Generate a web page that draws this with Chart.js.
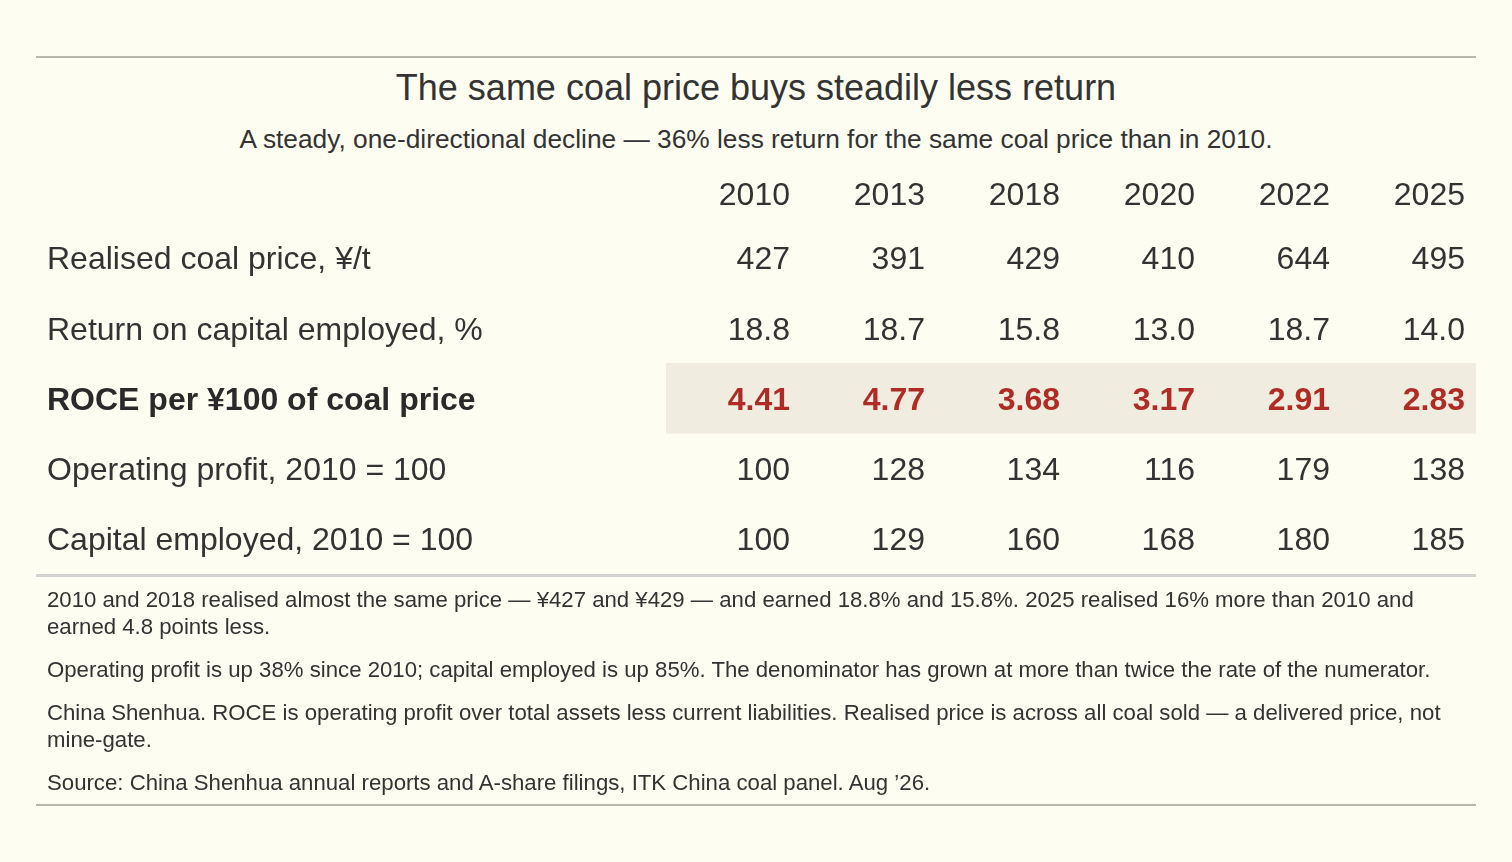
<!DOCTYPE html>
<html lang="en">
<head>
    <meta charset="UTF-8">
    <title>The same coal price buys steadily less return</title>
    <script src="https://cdn.jsdelivr.net/npm/chart.js"></script>
    <style>
        html, body {
            margin: 0;
            padding: 0;
            background: #fefdf1;
            font-family: "Liberation Sans", Arial, sans-serif;
            color: #333333;
        }
        .page {
            position: relative;
            width: 1512px;
            height: 862px;
            overflow: hidden;
        }
        .rule {
            position: absolute;
            left: 36px;
            width: 1440px;
        }
        .title {
            position: absolute;
            left: 0;
            width: 1512px;
            top: 66px;
            text-align: center;
            font-size: 36px;
            line-height: 43px;
        }
        .subtitle {
            position: absolute;
            left: 0;
            width: 1512px;
            top: 124px;
            text-align: center;
            font-size: 26.3px;
            line-height: 31px;
        }
        .chart-box {
            position: absolute;
            left: 36px;
            top: 160px;
            width: 1440px;
            height: 433px;
        }
        .notes {
            position: absolute;
            left: 47px;
            top: 586px;
            width: 1419px;
            font-size: 22.2px;
            line-height: 27px;
        }
        .notes p {
            margin: 0 0 16px 0;
        }
    </style>
</head>
<body>
<div class="page">
    <div class="rule" style="top:56px;height:2px;background:#b8b7ae;"></div>
    <div class="title" id="title"></div>
    <div class="subtitle" id="subtitle"></div>
    <div class="chart-box"><canvas id="table"></canvas></div>
    <div class="rule" style="top:574px;height:3px;background:#d2d2d0;"></div>
    <div class="notes" id="notes"></div>
    <div class="rule" style="top:804px;height:2px;background:#b8b7ae;"></div>
</div>
<script>
    const titleText = 'The same coal price buys steadily less return';
    const subtitleText = 'A steady, one-directional decline — 36% less return for the same coal price than in 2010.';

    const years = ['2010', '2013', '2018', '2020', '2022', '2025'];
    const rowLabels = [
        'Realised coal price, ¥/t',
        'Return on capital employed, %',
        'ROCE per ¥100 of coal price',
        'Operating profit, 2010 = 100',
        'Capital employed, 2010 = 100'
    ];
    const coalPrice = [427, 391, 429, 410, 644, 495];
    const roce = [18.8, 18.7, 15.8, 13.0, 18.7, 14.0];
    const rocePer100 = [4.41, 4.77, 3.68, 3.17, 2.91, 2.83];
    const operatingProfit = [100, 128, 134, 116, 179, 138];
    const capitalEmployed = [100, 129, 160, 168, 180, 185];
    const decimals = [0, 1, 2, 0, 0];
    const highlightRow = 2;

    const notes = [
        '2010 and 2018 realised almost the same price — ¥427 and ¥429 — and earned 18.8% and 15.8%. 2025 realised 16% more than 2010 and earned 4.8 points less.',
        'Operating profit is up 38% since 2010; capital employed is up 85%. The denominator has grown at more than twice the rate of the numerator.',
        'China Shenhua. ROCE is operating profit over total assets less current liabilities. Realised price is across all coal sold — a delivered price, not mine-gate.',
        'Source: China Shenhua annual reports and A-share filings, ITK China coal panel. Aug \u201926.'
    ];

    document.getElementById('title').textContent = titleText;
    document.getElementById('subtitle').textContent = subtitleText;
    const notesEl = document.getElementById('notes');
    notes.forEach(n => {
        const p = document.createElement('p');
        p.textContent = n;
        notesEl.appendChild(p);
    });

    const FONT = '"Liberation Sans", Arial, sans-serif';
    const TEXT = '#333333';
    const RED = '#b02b25';
    const X_MIN = -0.9185;
    const X_MAX = 5.0815;
    const TEXT_DROP = 2.5; // glyphs sit a touch below the row centre

    const rows = [coalPrice, roce, rocePer100, operatingProfit, capitalEmployed];

    // one scatter dataset per row, each point is a cell
    const cellSets = rows.map((values, r) => ({
        type: 'scatter',
        label: rowLabels[r],
        data: values.map((v, i) => ({ x: i, y: rowLabels[r], v: v })),
        pointRadius: 0,
        pointHoverRadius: 0,
        rowIndex: r
    }));

    const cellText = {
        id: 'cellText',
        afterDatasetsDraw(chart) {
            const ctx = chart.ctx;
            ctx.save();
            ctx.textAlign = 'right';
            ctx.textBaseline = 'middle';
            chart.data.datasets.forEach((ds, di) => {
                if (ds.type !== 'scatter') return;
                const r = ds.rowIndex;
                const bold = r === highlightRow;
                ctx.font = (bold ? 'bold ' : '') + '32px ' + FONT;
                ctx.fillStyle = bold ? RED : TEXT;
                chart.getDatasetMeta(di).data.forEach((pt, i) => {
                    ctx.fillText(ds.data[i].v.toFixed(decimals[r]), pt.x, pt.y + TEXT_DROP);
                });
            });
            ctx.restore();
        }
    };

    new Chart(document.getElementById('table'), {
        type: 'bar',
        data: {
            labels: rowLabels,
            datasets: [
                {
                    label: 'highlight',
                    indexAxis: 'y',
                    data: rowLabels.map((l, i) => i === highlightRow ? [X_MIN, X_MAX] : null),
                    backgroundColor: '#f0ede0',
                    borderWidth: 0,
                    barPercentage: 1,
                    categoryPercentage: 1
                },
                ...cellSets
            ]
        },
        options: {
            indexAxis: 'y',
            responsive: true,
            maintainAspectRatio: false,
            animation: false,
            events: [],
            layout: { padding: { left: 11, right: 0, top: 0, bottom: 0 } },
            plugins: {
                legend: { display: false },
                tooltip: { enabled: false }
            },
            scales: {
                x: {
                    type: 'linear',
                    position: 'top',
                    min: X_MIN,
                    max: X_MAX,
                    grid: { display: false },
                    border: { display: false },
                    afterBuildTicks: scale => {
                        scale.ticks = years.map((y, i) => ({ value: i }));
                    },
                    afterFit: scale => { scale.height = 63; },
                    ticks: {
                        autoSkip: false,
                        maxRotation: 0,
                        align: 'end',
                        padding: 0,
                        color: TEXT,
                        font: { family: FONT, size: 32 },
                        callback: value => years[value]
                    }
                },
                y: {
                    type: 'category',
                    position: 'left',
                    offset: true,
                    grid: { display: false },
                    border: { display: false },
                    afterFit: scale => { scale.width = 619; },
                    ticks: {
                        autoSkip: false,
                        crossAlign: 'far',
                        padding: 0,
                        labelOffset: TEXT_DROP,
                        color: ctx => ctx.index === highlightRow ? '#2a2a2a' : TEXT,
                        font: ctx => ({
                            family: FONT,
                            size: 32,
                            weight: ctx.index === highlightRow ? 'bold' : 'normal'
                        })
                    }
                }
            }
        },
        plugins: [cellText]
    });
</script>
</body>
</html>
